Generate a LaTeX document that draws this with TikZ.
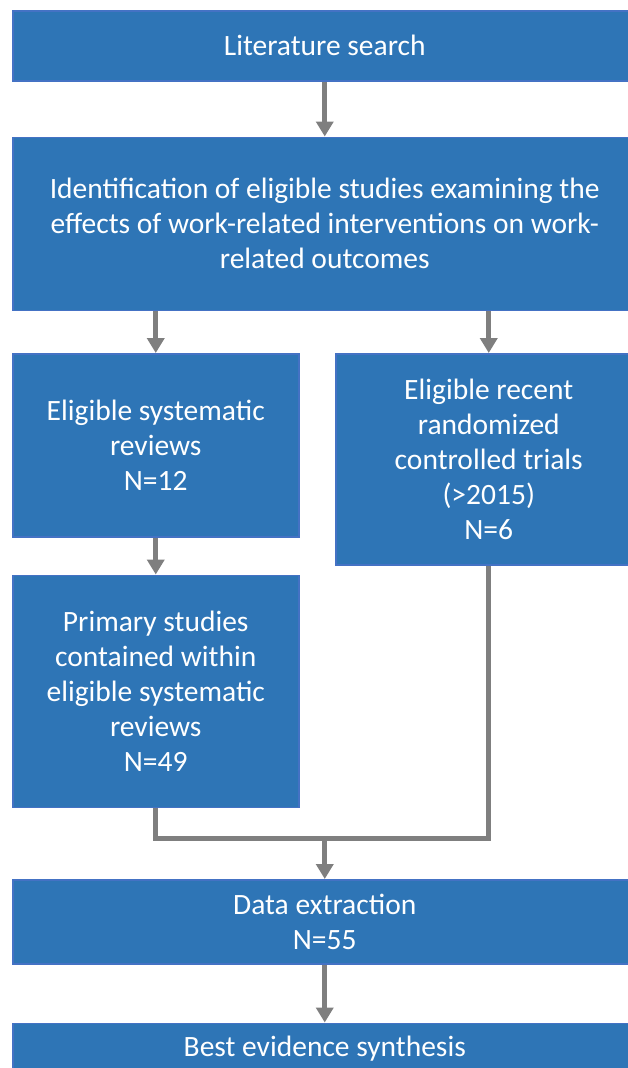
\documentclass[tikz,border=0pt]{standalone}
\usepackage{fontspec}
\setmainfont{Carlito}
\usepackage{tikz}
\usetikzlibrary{arrows.meta, positioning}
\definecolor{boxblue}{HTML}{2E75B6}
\definecolor{edgeblue}{HTML}{4472C4}
\definecolor{linkgray}{HTML}{7F7F7F}
\tikzset{
  box/.style={rectangle, draw=edgeblue, fill=boxblue, text=white, line width=1.5pt, align=center, inner sep=0pt, font=\fontsize{29.5}{35}\selectfont},
  widebox/.style={box, minimum width=624pt},
  halfbox/.style={box, minimum width=286pt},
  link/.style={draw=linkgray, line width=5pt},
  arrow/.style={link, -{Triangle[width=17pt, length=15pt]}},
}

\begin{document}
\begin{tikzpicture}
  \useasboundingbox (0,0) rectangle (627pt,-1068pt);
  \node[widebox, minimum height=70pt, anchor=north west] (lit) at (12pt,-10pt) {Literature search};
  \node[widebox, minimum height=173pt, below=55pt of lit] (ident) {Identification of eligible studies examining the\\effects of work-related interventions on work-\\related outcomes};
  \node[halfbox, minimum height=183pt, below=42pt of ident.south west, anchor=north west] (sysrev) {Eligible systematic\\reviews\\N=12};
  \node[box, minimum width=306pt, minimum height=211pt, below right=42pt and 323pt of ident.south west, anchor=north west] (rct) {Eligible recent\\randomized\\controlled trials\\(>2015)\\N=6};
  \node[halfbox, minimum height=232pt, below=37pt of sysrev] (primary) {Primary studies\\contained within\\eligible systematic\\reviews\\N=49};
  \node[widebox, minimum height=84pt, below=71pt of primary.south west, anchor=north west] (extract) {Data extraction\\N=55};
  \node[widebox, minimum height=56pt, text depth=10pt, below=58pt of extract.south west, anchor=north west] (synth) {Best evidence synthesis};
  \coordinate[above=41pt of extract.north] (merge);
  \draw[arrow] (lit) -- (ident);
  \draw[arrow] (ident.south -| sysrev) -- (sysrev);
  \draw[arrow] (ident.south -| rct) -- (rct);
  \draw[arrow] (sysrev) -- (primary);
  \draw[link] (primary.south) |- (merge) -| (rct.south);
  \draw[arrow] (merge) -- (extract);
  \draw[arrow] (extract) -- (synth);
\end{tikzpicture}
\end{document}
